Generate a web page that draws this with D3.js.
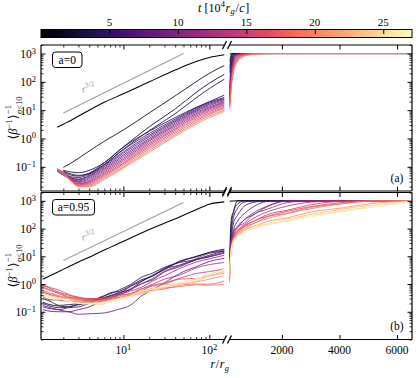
<!DOCTYPE html>
<html lang="en">
<head>
<meta charset="UTF-8">
<title>beta profiles</title>
<script src="https://d3js.org/d3.v7.min.js"></script>
<style>
  body { margin: 0; background: #fff; }
  svg text { font-family: "Liberation Serif", "DejaVu Serif", "DejaVu Sans", serif; fill: #000; }
</style>
</head>
<body>
<div id="chart"></div>
<script>
// ---- DATA ----
// panel (a), a=0
var timesA = [0, 1, 2, 3, 4, 5, 6.25, 7.5, 8.75, 10, 11.25, 12.5, 13.75, 15, 16.25, 17.5, 18.75, 20];
var rLeftA = [1.7, 2, 2.5, 3, 4, 6, 10, 20, 40, 70, 100, 150];
var rRightA = [180, 200, 250, 300, 400, 600, 900, 1400, 2000, 6520];
var leftA = [
  [2.5, 3.2, 4.5, 6.2, 10, 19, 38, 100, 260, 520, 720, 900],
  [null, 0.095, 0.14, 0.2, 0.36, 0.8, 2.0, 8, 32, 100, 200, 380],
  [null, 0.075, 0.065, 0.062, 0.075, 0.14, 0.5, 2.6, 11, 42, 90, 185],
  [null, 0.07, 0.055, 0.05, 0.058, 0.12, 0.42, 1.9, 7.5, 27, 58, 125],
  [null, 0.065, 0.05, 0.047, 0.06, 0.14, 0.5, 1.8, 5.5, 12.5, 20, 34],
  [0.07, 0.058, 0.044, 0.042, 0.055, 0.12, 0.4, 1.5, 4.8, 12, 19, 28],
  [0.072, 0.055, 0.04, 0.037, 0.05, 0.11, 0.34, 1.3, 4.3, 11, 17.5, 26],
  [0.075, 0.055, 0.04, 0.035, 0.046, 0.1, 0.3, 1.15, 3.9, 10, 16, 24],
  [0.07, 0.05, 0.036, 0.032, 0.042, 0.09, 0.26, 1.0, 3.5, 9.2, 14.5, 22],
  [0.075, 0.055, 0.036, 0.03, 0.038, 0.082, 0.23, 0.9, 3.1, 8.3, 13, 20],
  [0.08, 0.06, 0.036, 0.028, 0.034, 0.074, 0.2, 0.82, 2.8, 7.5, 12, 18.5],
  [0.075, 0.058, 0.034, 0.026, 0.031, 0.066, 0.18, 0.72, 2.5, 6.8, 11, 17],
  [0.08, 0.06, 0.033, 0.025, 0.029, 0.06, 0.16, 0.64, 2.2, 6.1, 10, 15.5],
  [0.085, 0.065, 0.034, 0.024, 0.027, 0.054, 0.14, 0.57, 2.0, 5.5, 9, 14],
  [0.08, 0.06, 0.032, 0.023, 0.025, 0.05, 0.13, 0.5, 1.75, 4.8, 8, 12.5],
  [0.085, 0.062, 0.031, 0.022, 0.023, 0.045, 0.115, 0.44, 1.55, 4.2, 7.2, 11.5],
  [0.08, 0.058, 0.03, 0.021, 0.021, 0.04, 0.1, 0.38, 1.35, 3.7, 6.3, 10],
  [0.075, 0.055, 0.03, 0.02, 0.02, 0.036, 0.09, 0.33, 1.2, 3.2, 5.5, 9]
];
var rightA = [
  [940, 960, 985, 995, 1000, 1000, 1000, 1000, 1000, 1000],
  [520, 680, 920, 1000, 1000, 1000, 1000, 1000, 1000, 1000],
  [300, 450, 820, 980, 1000, 1000, 1000, 1000, 1000, 1000],
  [210, 340, 720, 950, 1000, 1000, 1000, 1000, 1000, 1000],
  [60, 150, 520, 860, 1000, 1000, 1000, 1000, 1000, 1000],
  [40, 100, 420, 760, 980, 1000, 1000, 1000, 1000, 1000],
  [34, 85, 360, 700, 950, 1000, 1000, 1000, 1000, 1000],
  [28, 72, 310, 630, 920, 1000, 1000, 1000, 1000, 1000],
  [25, 62, 270, 570, 880, 1000, 1000, 1000, 1000, 1000],
  [22, 52, 230, 510, 830, 990, 1000, 1000, 1000, 1000],
  [20, 45, 200, 450, 780, 970, 1000, 1000, 1000, 1000],
  [18, 38, 170, 390, 720, 950, 1000, 1000, 1000, 1000],
  [17, 33, 145, 340, 660, 920, 990, 1000, 1000, 1000],
  [15, 29, 125, 300, 600, 880, 980, 1000, 1000, 1000],
  [14, 26, 105, 260, 540, 840, 970, 1000, 1000, 1000],
  [13, 23, 93, 230, 490, 800, 950, 995, 1000, 1000],
  [12, 21, 82, 205, 440, 750, 930, 990, 1000, 1000],
  [11, 19, 72, 185, 400, 700, 900, 980, 1000, 1000]
];
var slopeA = [[2, 8], [50, 1000]];

// panel (b), a=0.95
var timesB = [0, 1.5, 3, 4.5, 6, 7.5, 9, 10.5, 12, 13.5, 15, 16.5, 18, 19.5, 21, 22.5, 24, 25.5, 27];
var rLeftB = [1.15, 1.4, 1.8, 2.3, 3, 4, 5.5, 7, 9, 12, 16, 22, 30, 45, 70, 100, 150];
var rRightB = [180, 200, 250, 320, 450, 700, 1000, 1500, 2200, 3000, 4000, 5200, 6520];
var leftB = [
  [1.5, 2.0, 2.9, 4.2, 6.2, 9.3, 15, 21, 30, 45, 68, 105, 155, 260, 480, 760, 920],
  [0.22, 0.18, 0.16, 0.15, 0.18, 0.21, 0.3, 0.38, 0.5, 0.64, 1.2, 2.0, 3.3, 6.7, 9.5, 14, 18],
  [0.3, 0.24, 0.17, 0.18, 0.2, 0.26, 0.32, 0.48, 0.55, 0.85, 1.4, 1.95, 3.6, 6.2, 10, 13.2, 15],
  [0.2, 0.16, 0.14, 0.15, 0.19, 0.22, 0.35, 0.44, 0.62, 0.95, 1.72, 2.5, 4.0, 6.0, 7.6, 11, 16],
  [0.15, 0.13, 0.12, 0.14, 0.15, 0.2, 0.27, 0.36, 0.46, 0.8, 1.25, 2.1, 3.55, 4.8, 7.5, 9.5, 13],
  [0.12, 0.105, 0.1, 0.1, 0.12, 0.15, 0.24, 0.29, 0.42, 0.62, 1.0, 1.45, 2.7, 4.2, 7.5, 10, 14],
  [0.17, 0.14, 0.115, 0.1, 0.081, 0.085, 0.088, 0.1, 0.125, 0.17, 0.36, 0.62, 1.1, 2.4, 4.2, 6.5, 8.5],
  [0.36, 0.27, 0.26, 0.24, 0.24, 0.27, 0.3, 0.32, 0.46, 0.66, 1.0, 1.6, 2.9, 4.6, 8.2, 13, 17],
  [0.52, 0.42, 0.35, 0.3, 0.28, 0.3, 0.29, 0.33, 0.41, 0.56, 0.75, 1.3, 2.0, 3.6, 6.2, 8.1, 11],
  [0.75, 0.6, 0.46, 0.33, 0.31, 0.28, 0.27, 0.29, 0.38, 0.45, 0.65, 1.0, 1.5, 2.1, 3.8, 5, 6],
  [0.9, 0.7, 0.5, 0.4, 0.32, 0.28, 0.24, 0.29, 0.33, 0.4, 0.55, 0.9, 1.1, 1.6, 2.4, 2.8, 3.5],
  [0.95, 0.75, 0.6, 0.42, 0.34, 0.3, 0.3, 0.33, 0.4, 0.44, 0.65, 0.85, 1.0, 1.5, 1.6, 2.0, 2.5],
  [0.8, 0.6, 0.45, 0.36, 0.3, 0.27, 0.26, 0.31, 0.32, 0.38, 0.48, 0.6, 0.66, 0.9, 1.0, 0.99, 1.3],
  [0.6, 0.48, 0.38, 0.32, 0.3, 0.24, 0.24, 0.27, 0.32, 0.4, 0.44, 0.62, 0.72, 0.8, 0.94, 0.9, 1.0],
  [0.55, 0.45, 0.36, 0.3, 0.26, 0.22, 0.25, 0.28, 0.37, 0.42, 0.55, 0.7, 0.95, 1.0, 1.2, 1.5, 2.0],
  [0.45, 0.38, 0.32, 0.3, 0.23, 0.21, 0.22, 0.25, 0.3, 0.43, 0.5, 0.65, 0.8, 1.0, 1.23, 2.0, 2.8],
  [0.4, 0.34, 0.28, 0.24, 0.21, 0.2, 0.185, 0.24, 0.29, 0.36, 0.48, 0.55, 0.78, 1.1, 1.5, 2.3, 3.2],
  [0.38, 0.32, 0.24, 0.23, 0.2, 0.19, 0.2, 0.25, 0.28, 0.34, 0.44, 0.58, 0.81, 0.95, 1.3, 1.9, 2.6],
  [0.42, 0.35, 0.29, 0.25, 0.2, 0.2, 0.21, 0.24, 0.3, 0.37, 0.55, 0.66, 0.85, 1.1, 1.6, 2.15, 3.5]
];
var rightB = [
  [950, 960, 980, 995, 1000, 1000, 1000, 1000, 1000, 1000, 1000, 1000, 1000],
  [8, 35, 240, 420, 1000, 1000, 1000, 1000, 1000, 1000, 1000, 1000, 1000],
  [6, 28, 150, 380, 750, 1000, 1000, 1000, 1000, 1000, 1000, 1000, 1000],
  [4, 18, 90, 250, 520, 900, 1000, 1000, 1000, 1000, 1000, 1000, 1000],
  [3.5, 16, 55, 160, 290, 650, 870, 1000, 1000, 1000, 1000, 1000, 1000],
  [3, 12, 46, 92, 180, 350, 600, 950, 1000, 1000, 1000, 1000, 1000],
  [2.5, 11, 34, 74, 105, 210, 310, 620, 1000, 1000, 1000, 1000, 1000],
  [4, 12, 42, 76, 120, 210, 360, 650, 1000, 1000, 1000, 1000, 1000],
  [3, 9, 37, 60, 105, 160, 310, 500, 870, 1000, 1000, 1000, 1000],
  [2.5, 8, 30, 55, 85, 140, 230, 400, 650, 900, 1000, 1000, 1000],
  [2, 7.5, 24, 53, 76, 130, 180, 320, 460, 720, 950, 1000, 1000],
  [1.5, 6, 24, 45, 75, 120, 180, 280, 420, 620, 850, 1000, 1000],
  [1.2, 5.5, 20, 45, 66, 115, 150, 265, 360, 580, 780, 1000, 1000],
  [1.1, 4.5, 20, 40, 65, 100, 150, 230, 350, 520, 760, 980, 1000],
  [1.5, 5.5, 19, 41, 56, 95, 118, 180, 245, 395, 540, 820, 1000],
  [2, 6, 22, 38, 58, 85, 115, 150, 220, 320, 480, 700, 1000],
  [2.5, 6.5, 18, 39, 52, 84, 100, 148, 190, 300, 415, 670, 980],
  [2, 5, 18, 32, 50, 75, 100, 135, 190, 270, 400, 600, 950],
  [3, 6, 20, 34, 52, 78, 110, 150, 210, 300, 450, 680, 1000]
];
var slopeB = [[2, 7], [50, 875]];

// ticks and labels
var yMajor = [0.1, 1, 10, 100, 1000];
var yMajorExp = ["\u22121", "0", "1", "2", "3"];
var xLogMajor = [10, 100];
var xLogExp = ["1", "2"];
var xLinMajor = [2000, 4000, 6000];
var cbTicks = [5, 10, 15, 20, 25];

// ---- LAYOUT ----
var W = 416, H = 378;
var xL0 = 41, xL1 = 224.5, xR0 = 229.5, xR1 = 412;
var tMax = 27.1;
var color = function(t) { return d3.interpolateMagma(t / tMax); };

var svg = d3.select("#chart").append("svg")
    .attr("width", W).attr("height", H);
var defs = svg.append("defs");

var panels = [
  {y0: 45, y1: 191, dom: [0.014, 2000], tag: "a=0", tagW: 29.5, lab: "(a)",
   times: timesA, rl: rLeftA, rr: rRightA, left: leftA, right: rightA, slope: slopeA, slopeLab: [89, 91]},
  {y0: 192.5, y1: 339.5, dom: [0.01, 2000], tag: "a=0.95", tagW: 42, lab: "(b)",
   times: timesB, rl: rLeftB, rr: rRightB, left: leftB, right: rightB, slope: slopeB, slopeLab: [89, 239]}
];

function powLabel(sel, x, y, exp, anchor) {
  var t = sel.append("text").attr("x", x).attr("y", y)
      .attr("text-anchor", anchor).attr("font-size", 11.5);
  t.append("tspan").text("10");
  t.append("tspan").attr("dy", -4.5).attr("font-size", 8.5).text(exp);
}

function styleAxis(s, w) {
  s.select(".domain").remove();
  s.selectAll(".tick line").attr("stroke", "#000").attr("stroke-width", w);
}

// lays pieces of a math label side by side, centred on cx
function mathLabel(cx, cy, pieces) {
  var g = svg.append("g").attr("transform", "translate(" + cx + "," + cy + ")");
  var x = 0;
  pieces.forEach(function(p) {
    var t = g.append("text").attr("x", x).attr("y", p.dy || 0)
        .attr("font-size", p.fs || 12).attr("font-style", p.it ? "italic" : null).text(p.s);
    x += t.node().getComputedTextLength() + (p.gap == null ? 0.6 : p.gap);
  });
  g.selectAll("text").attr("transform", "translate(" + (-x / 2) + ",0)");
  return g;
}

panels.forEach(function(p, i) {
  var xl = d3.scaleLog().domain([1.1, 150]).range([xL0, xL1]);
  var xr = d3.scaleLinear().domain([180, 6520]).range([xR0, xR1]);
  var y = d3.scaleLog().domain(p.dom).range([p.y1, p.y0]);

  defs.append("clipPath").attr("id", "cl" + i).append("rect")
      .attr("x", xL0).attr("y", p.y0).attr("width", xL1 - xL0).attr("height", p.y1 - p.y0);
  defs.append("clipPath").attr("id", "cr" + i).append("rect")
      .attr("x", xR0).attr("y", p.y0).attr("width", xR1 - xR0).attr("height", p.y1 - p.y0);

  var lineL = d3.line().defined(function(d) { return d[1] != null; })
      .x(function(d) { return xl(d[0]); }).y(function(d) { return y(d[1]); })
      .curve(d3.curveMonotoneX);
  var lineR = d3.line().defined(function(d) { return d[1] != null; })
      .x(function(d) { return xr(d[0]); }).y(function(d) { return y(d[1]); })
      .curve(d3.curveMonotoneX);
  var straight = d3.line().x(function(d) { return xl(d[0]); }).y(function(d) { return y(d[1]); });

  var gl = svg.append("g").attr("clip-path", "url(#cl" + i + ")").attr("fill", "none");
  var gr = svg.append("g").attr("clip-path", "url(#cr" + i + ")").attr("fill", "none");

  // r^{3/2} guide
  gl.append("path").datum(p.slope).attr("d", straight)
      .attr("stroke", "#a0a0a0").attr("stroke-width", 1.1);
  var sl = svg.append("text")
      .attr("transform", "translate(" + p.slopeLab[0] + "," + p.slopeLab[1] + ") rotate(-14)")
      .attr("text-anchor", "middle").attr("font-size", 10).style("fill", "#999");
  sl.append("tspan").attr("font-style", "italic").text("r");
  sl.append("tspan").attr("dy", -4).attr("font-size", 7.5).text("3/2");

  p.times.forEach(function(t, k) {
    var sw = k === 0 ? 1.05 : 0.85;
    gl.append("path").datum(d3.zip(p.rl, p.left[k])).attr("d", lineL)
        .attr("stroke", color(t)).attr("stroke-width", sw);
    gr.append("path").datum(d3.zip(p.rr, p.right[k])).attr("d", lineR)
        .attr("stroke", color(t)).attr("stroke-width", sw);
  });

  // ticks (inward, all sides)
  var yMinor = y.ticks().filter(function(v) { return yMajor.indexOf(v) < 0; });
  var xMinor = xl.ticks().filter(function(v) { return xLogMajor.indexOf(v) < 0; });
  svg.append("g").attr("transform", "translate(" + xL0 + ",0)")
      .call(d3.axisLeft(y).tickValues(yMajor).tickSize(-4.5).tickFormat("")).call(styleAxis, 1);
  svg.append("g").attr("transform", "translate(" + xL0 + ",0)")
      .call(d3.axisLeft(y).tickValues(yMinor).tickSize(-2.5).tickFormat("")).call(styleAxis, 0.8);
  svg.append("g").attr("transform", "translate(" + xR1 + ",0)")
      .call(d3.axisRight(y).tickValues(yMajor).tickSize(-4.5).tickFormat("")).call(styleAxis, 1);
  svg.append("g").attr("transform", "translate(" + xR1 + ",0)")
      .call(d3.axisRight(y).tickValues(yMinor).tickSize(-2.5).tickFormat("")).call(styleAxis, 0.8);
  [[p.y1, d3.axisBottom], [p.y0, d3.axisTop]].forEach(function(e) {
    svg.append("g").attr("transform", "translate(0," + e[0] + ")")
        .call(e[1](xl).tickValues(xLogMajor).tickSize(-4.5).tickFormat("")).call(styleAxis, 1);
    svg.append("g").attr("transform", "translate(0," + e[0] + ")")
        .call(e[1](xl).tickValues(xMinor).tickSize(-2.5).tickFormat("")).call(styleAxis, 0.8);
    svg.append("g").attr("transform", "translate(0," + e[0] + ")")
        .call(e[1](xr).tickValues(xLinMajor).tickSize(-4.5).tickFormat("")).call(styleAxis, 1);
  });

  // spines
  var sp = svg.append("g").attr("stroke", "#000").attr("stroke-width", 1.2).attr("fill", "none");
  sp.append("line").attr("x1", xL0).attr("x2", xL0).attr("y1", p.y0).attr("y2", p.y1);
  sp.append("line").attr("x1", xR1).attr("x2", xR1).attr("y1", p.y0).attr("y2", p.y1);
  [p.y0, p.y1].forEach(function(yy) {
    sp.append("line").attr("x1", xL0).attr("x2", xL1).attr("y1", yy).attr("y2", yy);
    sp.append("line").attr("x1", xR0).attr("x2", xR1).attr("y1", yy).attr("y2", yy);
    [xL1, xR0].forEach(function(xx) {
      sp.append("line").attr("x1", xx - 2).attr("x2", xx + 2)
          .attr("y1", yy + 4).attr("y2", yy - 4).attr("stroke-width", 1.3);
    });
  });

  // y tick labels
  yMajor.forEach(function(v, j) {
    powLabel(svg, 36, y(v) + 4.5, yMajorExp[j], "end");
  });

  // y axis label
  var cy = (p.y0 + p.y1) / 2;
  var lg = svg.append("g").attr("transform", "translate(17," + cy + ") rotate(-90)");
  var main = lg.append("text").attr("font-size", 12.5);
  main.append("tspan").text("\u27E8");
  main.append("tspan").attr("font-style", "italic").text("\u03B2");
  main.append("tspan").attr("dy", -5).attr("font-size", 8.5).text("\u22121");
  main.append("tspan").attr("dy", 5).text("\u27E9");
  var w = main.node().getComputedTextLength();
  var sup = lg.append("text").attr("x", w + 0.5).attr("y", -6).attr("font-size", 8.5).text("\u22121");
  var sub = lg.append("text").attr("x", w + 0.5).attr("y", 4.5).attr("font-size", 8.5);
  sub.append("tspan").attr("font-style", "italic").text("\u03C3");
  sub.append("tspan").text("<10");
  var tot = w + 0.5 + Math.max(sup.node().getComputedTextLength(), sub.node().getComputedTextLength());
  lg.selectAll("text").attr("transform", "translate(" + (-tot / 2) + ",0)");

  // spin tag box
  var tb = svg.append("g");
  tb.append("rect").attr("x", 52.5).attr("y", p.y0 + 7).attr("width", p.tagW).attr("height", 15.5)
      .attr("rx", 3).attr("fill", "#fff").attr("stroke", "#000").attr("stroke-width", 1);
  tb.append("text").attr("x", 52.5 + p.tagW / 2).attr("y", p.y0 + 18.8)
      .attr("text-anchor", "middle").attr("font-size", 11.5).text(p.tag);

  // panel letter
  svg.append("text").attr("x", 397).attr("y", p.y1 - 9.5).attr("text-anchor", "middle")
      .attr("font-size", 11.5).text(p.lab);

  // x tick labels on the lower panel
  if (i === 1) {
    xLogMajor.forEach(function(v, j) { powLabel(svg, xl(v), 354, xLogExp[j], "middle"); });
    xLinMajor.forEach(function(v) {
      svg.append("text").attr("x", xr(v)).attr("y", 354).attr("text-anchor", "middle")
          .attr("font-size", 11.5).text(v);
    });
  }
});

// x axis label
mathLabel(220, 368, [
  {s: "r", it: true}, {s: "/"}, {s: "r", it: true, gap: 0.3}, {s: "g", it: true, fs: 8.5, dy: 3}
]);

// ---- COLORBAR ----
var cb = d3.scaleLinear().domain([0, tMax]).range([xL0, xR1]);
var grad = defs.append("linearGradient").attr("id", "magma");
d3.range(0, 1.0001, 0.05).forEach(function(o) {
  grad.append("stop").attr("offset", o).attr("stop-color", d3.interpolateMagma(o));
});
svg.append("rect").attr("x", xL0).attr("y", 29.5).attr("width", xR1 - xL0).attr("height", 8)
    .attr("fill", "url(#magma)").attr("stroke", "#000").attr("stroke-width", 1);
svg.append("g").attr("transform", "translate(0,29.5)")
    .call(d3.axisTop(cb).tickValues(cbTicks).tickSize(-4.5).tickFormat("")).call(styleAxis, 1);
cbTicks.forEach(function(v) {
  svg.append("text").attr("x", cb(v)).attr("y", 25.5).attr("text-anchor", "middle")
      .attr("font-size", 11).text(v);
});
mathLabel(224, 11.8, [
  {s: "t", it: true, gap: 3}, {s: "[10", gap: 0.3}, {s: "4", fs: 8.5, dy: -4.5},
  {s: "r", it: true, gap: 0.3}, {s: "g", it: true, fs: 8.5, dy: 2}, {s: "/"},
  {s: "c", it: true}, {s: "]"}
]);
</script>
</body>
</html>
